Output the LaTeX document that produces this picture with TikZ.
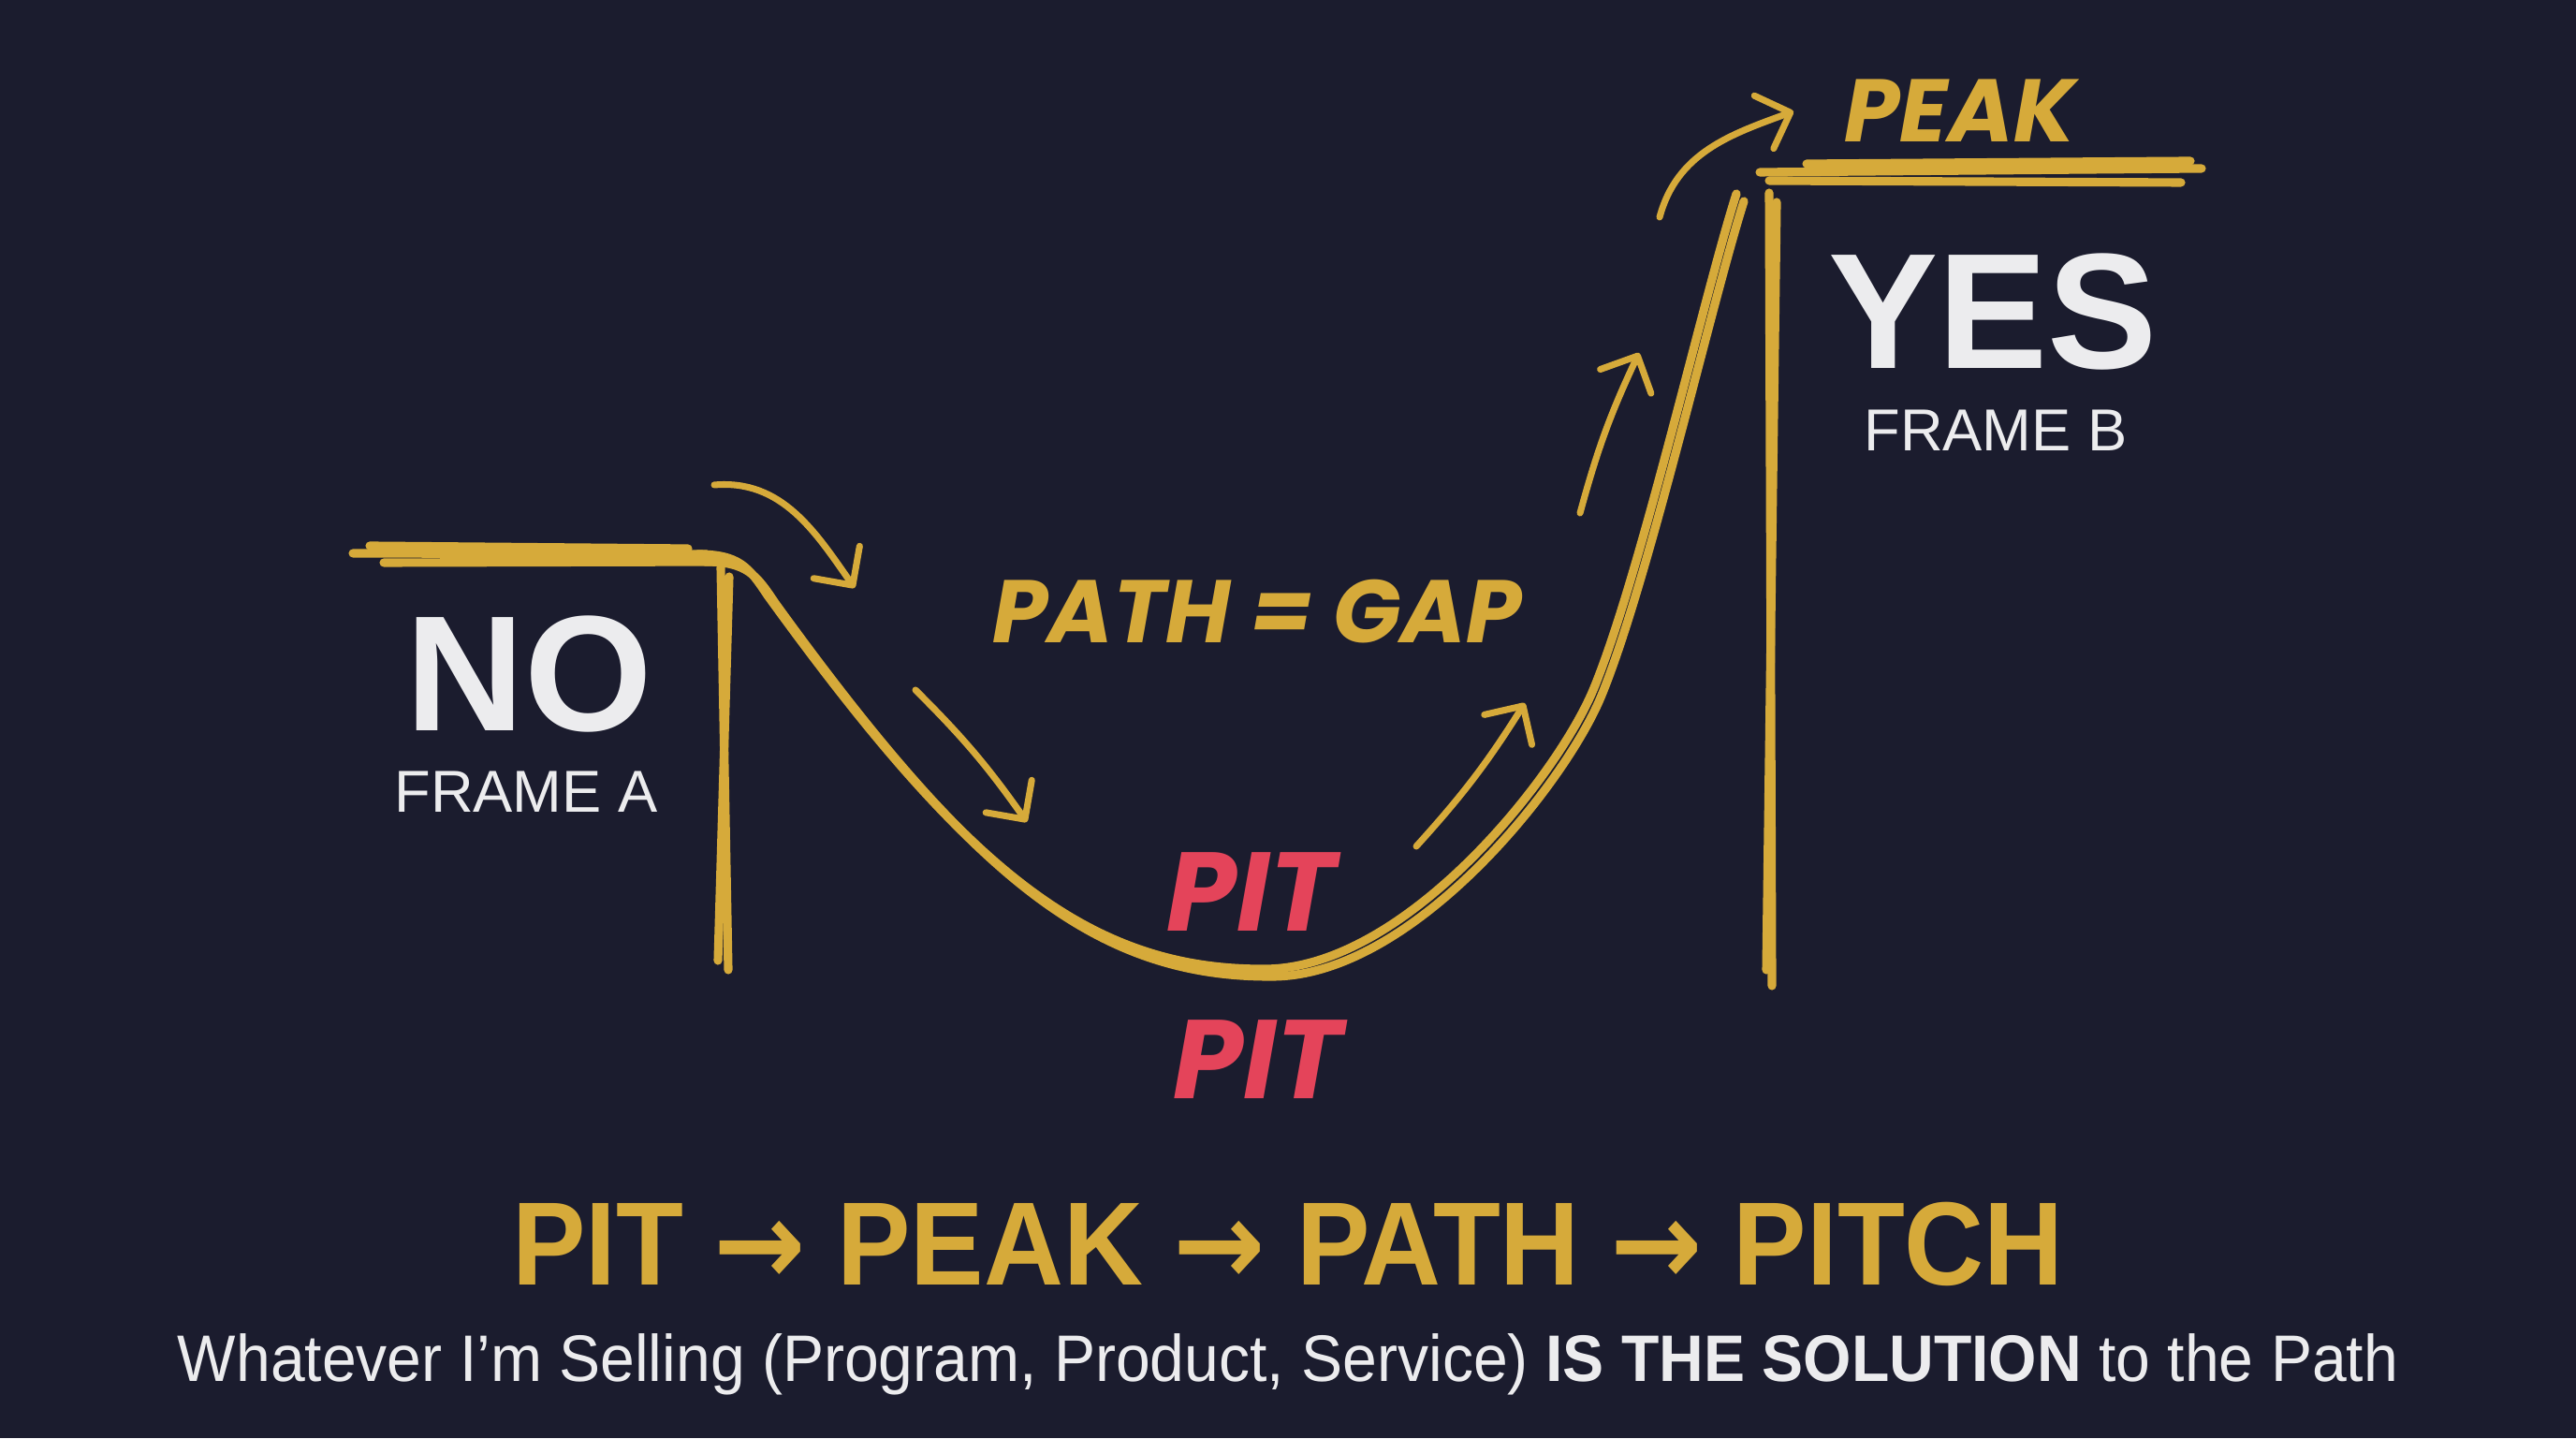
\documentclass[tikz,border=0pt]{standalone}
\usepackage{fontspec}
\setmainfont{Liberation Sans}
\newfontfamily\handfont{Poppins}
\newfontfamily\arrowfont{DejaVu Sans}
\usetikzlibrary{arrows.meta}
\definecolor{bgnavy}{RGB}{27,28,46}
\definecolor{gold}{RGB}{214,170,58}
\definecolor{pitred}{RGB}{228,68,90}
\definecolor{chalk}{RGB}{236,236,238}

\begin{document}
\begin{tikzpicture}[
        pen/.style={gold, line width=2.6pt, line cap=round, line join=round},
        hint/.style={gold, line width=2pt, line cap=round, -{Straight Barb[length=3mm,width=6mm,round]}},
        big/.style={chalk, font=\bfseries\fontsize{50}{50}\selectfont},
        frame/.style={chalk, font=\fontsize{18}{18}\selectfont},
        hand/.style={gold, font=\handfont\bfseries\itshape\fontsize{27}{27}\selectfont},
        pit/.style={pitred, font=\handfont\bfseries\itshape\fontsize{34}{34}\selectfont}
    ]
                \fill[bgnavy] (0, 0) rectangle (27.52, 15.36);
                \useasboundingbox (0, 0) rectangle (27.52, 15.36);

                % ledges and posts
                \draw[pen] (3.77, 9.45) -- (7.55, 9.44);
                \draw[pen] (3.95, 9.53) -- (7.35, 9.50);
                \draw[pen] (4.10, 9.35) -- (7.70, 9.36);
                \draw[pen] (7.70, 9.30) -- (7.78, 5.00);
                \draw[pen] (7.79, 9.20) -- (7.67, 5.10);

                \draw[pen] (18.80, 13.52) -- (23.52, 13.56);
                \draw[pen] (18.90, 13.43) -- (23.30, 13.41);
                \draw[pen] (19.30, 13.61) -- (23.40, 13.64);
                \draw[pen] (18.90, 13.30) -- (18.93, 4.83);
                \draw[pen] (18.98, 13.20) -- (18.87, 5.00);

                % the pit curve
                \foreach \dx/\dy in {0/0, 0.08/-0.08} {
                    \draw[pen, shift={(\dx, \dy)}] (7.45, 9.44) .. controls (7.9, 9.44) and (8.0, 9.3) .. (8.2, 9.0)
                        .. controls (10.3, 6.1) and (11.6, 5.0) .. (13.51, 5.01)
                        .. controls (15.0, 5.01) and (16.62, 7.04) .. (17.02, 7.99)
                        .. controls (17.52, 9.19) and (18.2, 12.19) .. (18.55, 13.29);
                }

                % labels
                \node[big] (no) at (5.65, 8.16) {NO};
                \node[frame] (frameA) at (5.62, 6.90) {FRAME A};
                \node[big] (yes) at (21.29, 12.03) {YES};
                \node[frame] (frameB) at (21.32, 10.76) {FRAME B};
                \node[hand] (peak) at (20.94, 14.18) {PEAK};
                \node[hand] (gap) at (13.43, 8.83) {PATH = GAP};
                \node[pit] (pitA) at (13.37, 5.83) {PIT};
                \node[pit] (pitB) at (13.44, 4.04) {PIT};

                % direction hints
                \coordinate (d1) at (7.63, 10.18);  \coordinate (d2) at (9.13, 9.08);
                \coordinate (d3) at (9.78, 7.99);   \coordinate (d4) at (10.97, 6.58);
                \coordinate (u1) at (15.13, 6.32);  \coordinate (u2) at (16.29, 7.85);
                \coordinate (u3) at (16.88, 9.88);  \coordinate (u4) at (17.51, 11.59);
                \coordinate (p1) at (17.73, 13.04); \coordinate (p2) at (19.16, 14.17);
                \draw[hint] (d1) to[out=5, in=125] (d2);
                \draw[hint] (d3) to[bend left=5] (d4);
                \draw[hint] (u1) to[bend right=5] (u2);
                \draw[hint] (u3) to[bend left=5] (u4);
                \draw[hint] (p1) to[out=75, in=200] (p2);

                % bottom lines
                \node[gold, font=\bfseries\fontsize{36}{36}\selectfont] (steps) at (13.76, 2.07)
                    {\scalebox{0.93}[1]{PIT {\arrowfont→} PEAK {\arrowfont→} PATH {\arrowfont→} PITCH}};
                \node[chalk, font=\fontsize{20}{20}\selectfont] (claim) at (13.76, 0.79)
                    {\scalebox{0.94}[1]{Whatever I’m Selling (Program, Product, Service) \textbf{IS THE SOLUTION} to the Path}};
\end{tikzpicture}
\end{document}
